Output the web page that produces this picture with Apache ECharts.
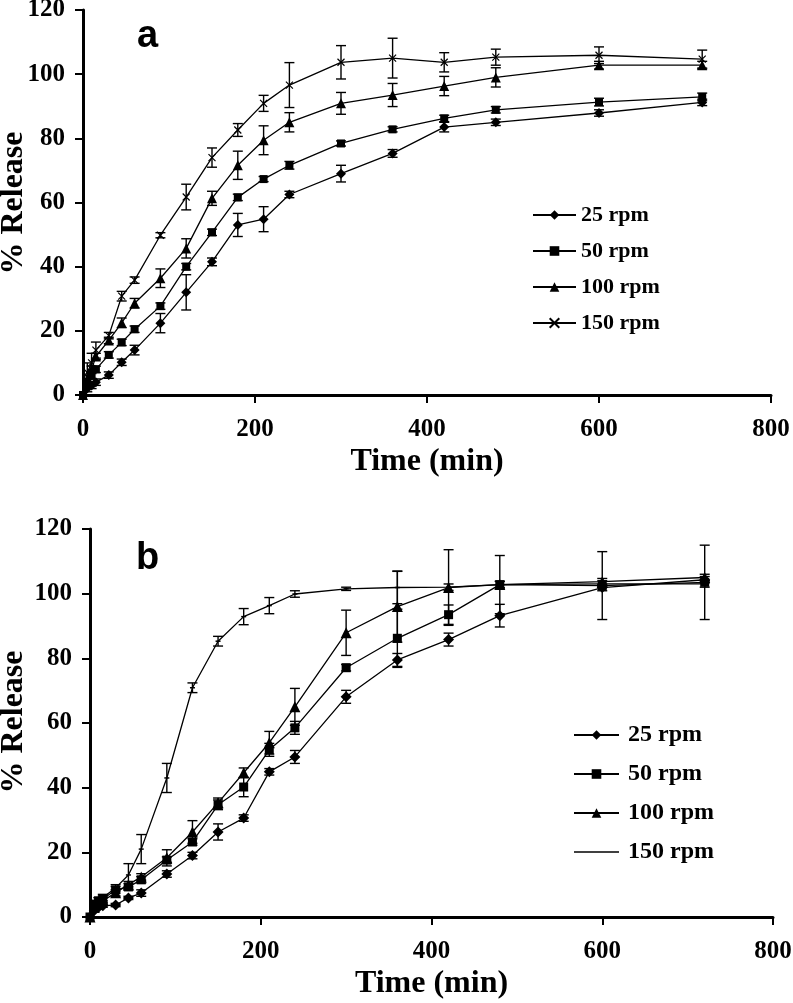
<!DOCTYPE html>
<html>
<head>
<meta charset="utf-8">
<script src="https://cdn.jsdelivr.net/npm/echarts@6/dist/echarts.min.js"></script>
<style>
html,body{margin:0;padding:0;background:#fff;}
#chart{width:793px;height:1003px;}
</style>
</head>
<body>
<div id="chart"></div>
<script>
// ---------- data ----------
const times = [0,5,10,15,30,45,60,90,120,150,180,210,240,300,360,420,480,600,720];
const xTicks = [0,200,400,600,800];
const yTicks = [0,20,40,60,80,100,120];
const seriesNames = ['25 rpm','50 rpm','100 rpm','150 rpm'];
const xTitle = 'Time (min)';
const yTitle = '% Release';

// panel a
const a25  = [0,2,3,4,6.2,10.2,14,22.4,32,41.5,53,54.8,62.5,69,75.3,83.5,85,87.9,91.2];
const a50  = [0,4,6,8,12.5,16.4,20.5,27.7,40,50.7,61.6,67.3,71.6,78.4,82.8,86.2,88.9,91.3,92.9];
const a100 = [0,5,8,12,17,22.5,28.6,36.4,45.7,61.3,71.6,79.4,85,90.9,93.5,96.3,99,102.8,102.8];
const a150 = [0,7,10,14,18.5,30.8,35.8,49.8,61.7,74,82.6,90.9,96.6,103.7,105,103.7,105.3,105.9,104.7];
const a25Err  = [0,1,1,1,1,1,1.5,3,5.5,1.2,3.6,3.9,1,2.6,1.2,1.5,1,1,1];
const a50Err  = [0,1,1,1,1,1,1,1,1,1,1,0.8,1.2,0.8,0.8,1,1,1.2,1.2];
const a100Err = [0,1,1,1,1,1.5,1.5,2.9,3,2.2,4.4,4.5,3,3.4,3.6,3,3,1.2,1.2];
const a150Err = [0,3,3,2.5,1,1.5,1,0.8,4,3,2,2.5,7,5.2,6.2,3,2.5,2.6,2.8];

// panel b
const b25  = [0,2,3,3.5,3.7,5.9,7.4,13.3,19,26.3,30.6,44.9,49.5,68.1,79.5,85.8,93.2,101.9,104.3];
const b50  = [0,4,5,5.5,8.4,9.3,11.5,17.6,23.2,34.7,40.2,51.7,58.5,77.1,86.2,93.5,102.8,102.5,103.5];
const b100 = [0,3,4,5,7.5,10,12.4,18.3,26.3,35.3,44.6,53.9,65,87.9,96,101.9,102.8,103.7,105];
const b150 = [0,4,5,6,9,13,21,43,70.9,85.3,92.9,96.3,99.9,101.5,101.9,102,102.8,103,103];
const b25Err  = [0,0.5,0.5,0.5,0.5,0.5,1,1,1,2.5,1,1,2,2,2,2,3.5,1,1];
const b50Err  = [0,1,1,1,1,1,1,1,1,1.5,3,2,2,1,9,3,9,10.5,11.5];
const b100Err = [0,1,1,1,1,1,1,2.5,3.5,1.5,1.5,3.5,5.7,7,11,11.7,1,1,1];
const b150Err = [0,1,1,1,1,3.5,4.5,4.5,1.5,1.5,2.5,2.5,1,0.5,5,1,1,1,1];

// ---------- styling ----------
const SERIF = '"Liberation Serif","Times New Roman",serif';
const SANS = '"Liberation Sans",Arial,sans-serif';
const crossPath = 'path://M0,0L10,10M10,0L0,10';

function pairs(vals){ return times.map((t,i)=>[t, vals[i]]); }
function errData(vals, errs){ return times.map((t,i)=>[t, vals[i], errs[i]]); }

function lineSeries(name, vals, idx, symbol, size, extra){
  return Object.assign({
    name: name,
    type: 'line',
    xAxisIndex: idx, yAxisIndex: idx,
    data: pairs(vals),
    symbol: symbol,
    symbolSize: size,
    lineStyle: {color:'#000', width:1.3},
    itemStyle: {color:'#000'},
    z: 3,
    animation: false
  }, extra || {});
}

function errSeries(vals, errs, idx){
  return {
    type: 'custom',
    xAxisIndex: idx, yAxisIndex: idx,
    data: errData(vals, errs),
    silent: true,
    animation: false,
    z: 2,
    renderItem: function(params, api){
      const x = api.value(0), y = api.value(1), e = api.value(2);
      if (!e) return null;
      const top = api.coord([x, y + e]);
      const bot = api.coord([x, y - e]);
      const w = 5;
      const st = {stroke:'#000', lineWidth:1.4};
      return {
        type: 'group',
        children: [
          {type:'line', shape:{x1:top[0], y1:top[1], x2:bot[0], y2:bot[1]}, style:st},
          {type:'line', shape:{x1:top[0]-w, y1:top[1], x2:top[0]+w, y2:top[1]}, style:st},
          {type:'line', shape:{x1:bot[0]-w, y1:bot[1], x2:bot[0]+w, y2:bot[1]}, style:st}
        ]
      };
    }
  };
}

function xAxis(idx, gap){
  return {
    gridIndex: idx, type:'value', min:0, max:800, interval:200,
    name: xTitle, nameLocation:'middle', nameGap: gap,
    nameTextStyle:{fontFamily:SERIF, fontWeight:'bold', fontSize:32, color:'#000'},
    axisLine:{show:true, lineStyle:{color:'#000', width:3}},
    axisTick:{show:true, length:8, lineStyle:{color:'#000', width:2}},
    axisLabel:{fontFamily:SERIF, fontWeight:'bold', fontSize:25, color:'#000', margin:22,
      formatter: v => xTicks.includes(v) ? String(v) : ''},
    splitLine:{show:false}
  };
}
function yAxis(idx){
  return {
    gridIndex: idx, type:'value', min:0, max:120, interval:20,
    axisLine:{show:true, lineStyle:{color:'#000', width:3}},
    axisTick:{show:true, length:8, lineStyle:{color:'#000', width:2}},
    axisLabel:{fontFamily:SERIF, fontWeight:'bold', fontSize:25, color:'#000', margin:18,
      formatter: v => yTicks.includes(v) ? String(v) : ''},
    splitLine:{show:false}
  };
}

const namesB = seriesNames.map(n => n + ' ');
const lineIcon = 'path://M0,0L45,0L45,1.6L0,1.6Z';

const option = {
  backgroundColor:'#fff',
  animation:false,
  grid:[
    {left:83, right:22, top:10, height:385, containLabel:false, outerBoundsMode:'none'},
    {left:90, right:20, top:529, height:388, containLabel:false, outerBoundsMode:'none'}
  ],
  xAxis:[xAxis(0, 51), xAxis(1, 51)],
  yAxis:[yAxis(0), yAxis(1)],
  legend:[
    {
      data: seriesNames, orient:'vertical', left:532, top:204, padding:0,
      itemWidth:43, itemHeight:12, itemGap:14,
      textStyle:{fontFamily:SERIF, fontWeight:'bold', fontSize:22, color:'#000', lineHeight:22},
      selectedMode:false
    },
    {
      data: [namesB[0], namesB[1], namesB[2], {name: namesB[3], icon: lineIcon}],
      orient:'vertical', left:573, top:723, padding:0,
      itemWidth:45, itemHeight:12, itemGap:15,
      textStyle:{fontFamily:SERIF, fontWeight:'bold', fontSize:24, color:'#000', lineHeight:24, padding:[0,0,0,4]},
      selectedMode:false
    }
  ],
  graphic:[
    {type:'text', x:137, y:37, style:{text:'a', font:'bold 38px ' + SANS, fill:'#000', verticalAlign:'middle'}},
    {type:'text', x:136, y:559, style:{text:'b', font:'bold 38px ' + SANS, fill:'#000', verticalAlign:'middle'}},
    {type:'text', x:14, y:203, rotation:Math.PI/2,
      style:{text:yTitle, font:'bold 32px ' + SERIF, fill:'#000', align:'center', verticalAlign:'middle'}},
    {type:'text', x:14, y:722, rotation:Math.PI/2,
      style:{text:yTitle, font:'bold 32px ' + SERIF, fill:'#000', align:'center', verticalAlign:'middle'}}
  ],
  series:[
    errSeries(a25, a25Err, 0), errSeries(a50, a50Err, 0), errSeries(a100, a100Err, 0), errSeries(a150, a150Err, 0),
    lineSeries(seriesNames[0], a25, 0, 'diamond', 10),
    lineSeries(seriesNames[1], a50, 0, 'rect', 8),
    lineSeries(seriesNames[2], a100, 0, 'triangle', 10),
    lineSeries(seriesNames[3], a150, 0, crossPath, 7, {itemStyle:{color:'#000', borderColor:'#000', borderWidth:1.2}}),
    errSeries(b25, b25Err, 1), errSeries(b50, b50Err, 1), errSeries(b100, b100Err, 1), errSeries(b150, b150Err, 1),
    lineSeries(namesB[0], b25, 1, 'diamond', 11),
    lineSeries(namesB[1], b50, 1, 'rect', 9),
    lineSeries(namesB[2], b100, 1, 'triangle', 11),
    lineSeries(namesB[3], b150, 1, 'rect', [5, 1.5])
  ]
};

const chart = echarts.init(document.getElementById('chart'), null, {renderer:'canvas'});
chart.setOption(option);
</script>
</body>
</html>
